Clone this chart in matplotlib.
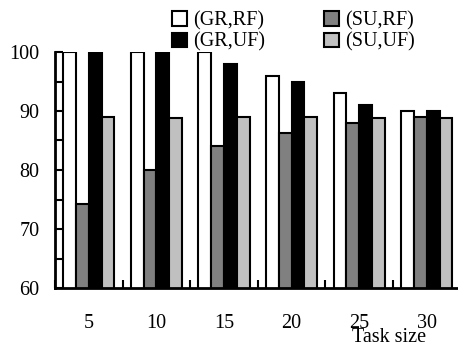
import matplotlib
matplotlib.use("Agg")
import matplotlib.pyplot as plt
from matplotlib.patches import Patch
import numpy as np

categories = ["5", "10", "15", "20", "25", "30"]
series_names = ["(GR,RF)", "(SU,RF)", "(GR,UF)", "(SU,UF)"]
gr_rf = [100, 100, 100, 96, 93, 90]
su_rf = [74.2, 80, 84, 86.3, 88, 88.9]
gr_uf = [100, 100, 98, 95, 91, 90]
su_uf = [89, 88.8, 89, 89, 88.8, 88.8]
colors = ["white", "#808080", "black", "#c0c0c0"]
yticks = [60, 70, 80, 90, 100]
xlabel = "Task size"

plt.rcParams["font.family"] = ["Liberation Serif", "DejaVu Serif"]
fs = 14.5

fig = plt.figure(figsize=(4.58, 3.48), dpi=100)
W, H = 458, 348
left, bottom = 55, 348 - 288
period = 67.6
ax = fig.add_axes([left / W, bottom / H, 6 * period / W, 236 / H])

x = np.arange(1, len(categories) + 1)
w = 0.19
data = [gr_rf, su_rf, gr_uf, su_uf]
handles = []
for i, (vals, c, name) in enumerate(zip(data, colors, series_names)):
    ax.bar(x + (i - 1.5) * w, vals, width=w, color=c, edgecolor="black",
           linewidth=1.5, zorder=2)
    handles.append(Patch(facecolor=c, edgecolor="black", linewidth=1.5, label=name))

ax.set_xlim(0.5, 6.5)
ax.set_ylim(60, 100)
ax.spines["top"].set_visible(False)
ax.spines["right"].set_visible(False)
ax.spines["left"].set_linewidth(2)
ax.spines["bottom"].set_linewidth(2)

ax.set_yticks(yticks)
ax.set_yticklabels([str(v) for v in yticks], fontsize=fs)
ax.set_yticks([65, 75, 85, 95], minor=True)
ax.tick_params(axis="y", which="both", direction="in", length=6, width=1.5, pad=11)

ax.set_xticks(np.arange(0.5, 7, 1.0))
ax.set_xticklabels([])
ax.tick_params(axis="x", which="major", direction="in", length=6, width=1.5)
ax.set_xticks(x, minor=True)
ax.set_xticklabels(categories, minor=True, fontsize=fs)
ax.tick_params(axis="x", which="minor", length=0, pad=19)

fig.text(389 / W, 1 - 338 / H, xlabel, fontsize=fs, ha="center", va="center")

order = [0, 2, 1, 3]
fig.legend([handles[i] for i in order], [series_names[i] for i in order],
           ncol=2, frameon=False, fontsize=fs, loc="upper left",
           bbox_to_anchor=(158 / W, 1 + 3 / H), handlelength=0.75, handleheight=0.75,
           handletextpad=0.3, columnspacing=2.9, labelspacing=0.1, borderpad=0.2)

fig.savefig("out.png", dpi=100)
